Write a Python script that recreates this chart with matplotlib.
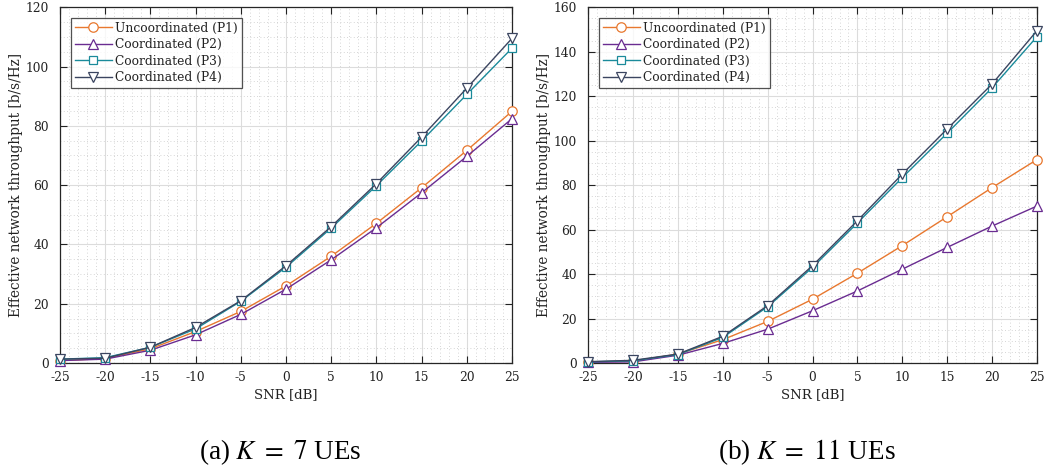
import matplotlib
matplotlib.use("Agg")
import matplotlib.pyplot as plt
from matplotlib.ticker import AutoMinorLocator, MultipleLocator

snr = [-25, -20, -15, -10, -5, 0, 5, 10, 15, 20, 25]

# K = 7 UEs
k7_p1 = [0.8, 1.5, 4.8, 10.6, 17.4, 26.0, 36.0, 47.1, 59.1, 71.7, 84.9]
k7_p2 = [0.8, 1.3, 4.3, 9.5, 16.4, 24.9, 34.8, 45.6, 57.4, 69.7, 82.4]
k7_p3 = [1.3, 1.8, 5.3, 11.5, 20.8, 32.3, 45.5, 59.8, 74.9, 90.6, 106.2]
k7_p4 = [1.3, 1.6, 5.3, 12.0, 21.0, 32.8, 46.0, 60.5, 76.2, 92.7, 109.5]

# K = 11 UEs
k11_p1 = [0.5, 0.8, 4.0, 10.5, 18.7, 28.7, 40.4, 52.8, 65.8, 78.9, 91.5]
k11_p2 = [0.3, 0.5, 3.5, 8.8, 15.2, 23.5, 32.4, 42.2, 52.0, 61.6, 70.6]
k11_p3 = [0.5, 1.0, 3.8, 11.5, 25.3, 43.0, 63.0, 83.4, 103.4, 123.8, 146.8]
k11_p4 = [0.6, 1.2, 4.0, 12.0, 25.8, 43.8, 64.0, 85.0, 105.3, 125.5, 149.5]

labels = ["Uncoordinated (P1)", "Coordinated (P2)", "Coordinated (P3)", "Coordinated (P4)"]
colors = ["#E8782F", "#6A2C91", "#1A8A9A", "#3B4560"]
markers = ["o", "^", "s", "v"]
msizes = [6.8, 7, 5.3, 7.5]
captions = [r"(a) $K\ =\ 7$ UEs", r"(b) $K\ =\ 11$ UEs"]

plt.rcParams['font.family'] = ['DejaVu Serif']
plt.rcParams['mathtext.fontset'] = 'stix'

fig = plt.figure(figsize=(10.52, 4.75), dpi=100)
ax1 = fig.add_axes([0.057, 0.2358, 0.4297, 0.749])
ax2 = fig.add_axes([0.559, 0.2358, 0.4268, 0.749])

for ax, series, ymax, ystep, cap in [
    (ax1, [k7_p1, k7_p2, k7_p3, k7_p4], 120, 20, captions[0]),
    (ax2, [k11_p1, k11_p2, k11_p3, k11_p4], 160, 20, captions[1]),
]:
    for s, lab, c, m, ms in zip(series, labels, colors, markers, msizes):
        ax.plot(snr, s, color=c, marker=m, markersize=ms, markerfacecolor='white',
                markeredgecolor=c, linewidth=1.0, markeredgewidth=0.9, label=lab,
                clip_on=False, zorder=3)
    ax.set_xlim(-25, 25)
    ax.set_ylim(0, ymax)
    ax.xaxis.set_major_locator(MultipleLocator(5))
    ax.yaxis.set_major_locator(MultipleLocator(ystep))
    ax.xaxis.set_minor_locator(AutoMinorLocator(5))
    ax.yaxis.set_minor_locator(AutoMinorLocator(4))
    ax.set_xticks(snr)
    ax.set_xticklabels([str(v) for v in snr])
    ax.grid(which='major', color='#dcdcdc', linewidth=0.8, linestyle='-')
    ax.grid(which='minor', color='#c8c8c8', linewidth=0.6, linestyle=(0, (1, 3)))
    ax.set_axisbelow(True)
    ax.tick_params(which='major', direction='in', length=5, top=True, right=True,
                   labelsize=8.8, colors='#222222', width=0.8)
    ax.tick_params(axis='y', which='major', pad=8)
    ax.tick_params(axis='x', which='major', pad=6)
    ax.tick_params(which='minor', length=0, top=False, right=False)
    for sp in ax.spines.values():
        sp.set_color('#262626')
        sp.set_linewidth(0.9)
    ax.set_xlabel("SNR [dB]", fontsize=9.5, labelpad=3, color='#222222')
    ax.set_ylabel("Effective network throughput [b/s/Hz]", fontsize=9.8, labelpad=2,
                  color='#222222')
    leg = ax.legend(loc='upper left', bbox_to_anchor=(0.017, 0.98), fontsize=8.8,
                    frameon=True, fancybox=False, edgecolor='#262626',
                    handlelength=3.0, borderpad=0.3, labelspacing=0.28,
                    handletextpad=0.3, borderaxespad=0.3)
    leg.get_frame().set_linewidth(0.9)
    for t in leg.get_texts():
        t.set_color('#222222')
    pos = ax.get_position()
    fig.text(pos.x0 + pos.width / 2 - 0.005, 0.048, cap, ha='center', va='center',
             fontsize=19.5, family=['Liberation Serif'])

fig.savefig("out.png", dpi=100)
